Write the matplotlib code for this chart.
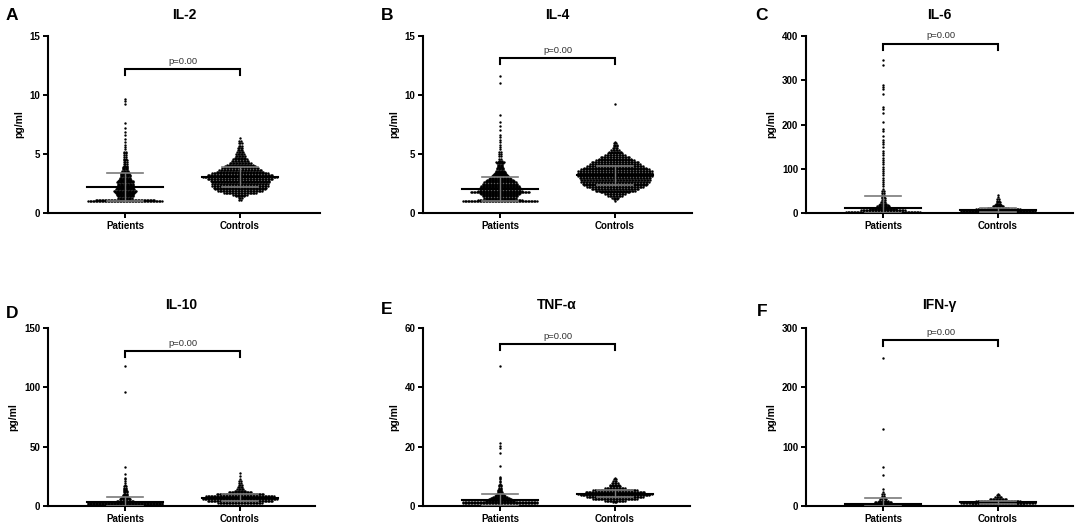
import numpy as np
import matplotlib.pyplot as plt

plt.rcParams['font.family'] = ['Liberation Sans', 'DejaVu Sans']

# panel labels, titles and axes
letters = ['A', 'B', 'C', 'D', 'E', 'F']
titles = ['IL-2', 'IL-4', 'IL-6', 'IL-10', 'TNF-α', 'IFN-γ']
groups = ['Patients', 'Controls']
y_max = [15, 15, 400, 150, 60, 300]
y_step = [5, 5, 100, 50, 20, 100]
p_text = ['p=0.00'] * 6
bracket_y = [12.2, 13.15, 383, 130.6, 54.5, 280]

# mean and SD (Patients, Controls)
means = [[2.2, 3.05], [2.06, 3.2], [10.6, 7.0], [3.6, 7.0], [2.0, 4.2], [4.0, 6.0]]
sds = [[1.2, 0.85], [1.02, 0.8], [28.4, 4.0], [4.2, 3.0], [1.9, 1.1], [10.0, 3.0]]

# dot rows: value level and number of dots drawn at that level
il2_pat_y = [1.0, 1.08, 1.2, 1.3, 1.4, 1.5, 1.6, 1.7, 1.8, 1.9, 2.0, 2.1, 2.2, 2.3, 2.4, 2.5,
             2.6, 2.7, 2.8, 2.9, 3.0, 3.1, 3.2, 3.3, 3.4, 3.5, 3.6, 3.7, 3.8, 3.9, 4.0, 4.15,
             4.3, 4.45, 4.6, 4.75, 4.9, 5.05, 5.2, 5.4, 5.6, 5.8, 6.0, 6.3, 6.6, 6.9, 7.2, 7.6,
             9.2, 9.5, 9.7]
il2_pat_n = [50, 40, 8, 10, 11, 12, 12, 13, 14, 16, 13, 12, 11, 11, 11, 11,
             12, 11, 9, 8, 8, 7, 7, 6, 6, 5, 5, 4, 4, 4, 3, 3,
             3, 3, 2, 2, 2, 2, 2, 1, 1, 1, 1, 1, 1, 1, 1, 1,
             1, 1, 1]
il2_con_y = [1.1, 1.25, 1.4, 1.55, 1.7, 1.85, 2.0, 2.15, 2.3, 2.45, 2.6, 2.75, 2.9, 3.05, 3.2,
             3.35, 3.5, 3.65, 3.8, 3.95, 4.1, 4.25, 4.4, 4.55, 4.7, 4.85, 5.0, 5.15, 5.3, 5.5,
             5.7, 5.9, 6.1, 6.35]
il2_con_n = [2, 3, 6, 10, 22, 30, 34, 36, 38, 38, 39, 40, 44, 50, 44,
             38, 32, 29, 25, 21, 18, 15, 12, 10, 8, 7, 6, 5, 4, 4,
             3, 3, 2, 1]

il4_pat_y = [1.0, 1.08, 1.2, 1.3, 1.4, 1.5, 1.6, 1.7, 1.8, 1.9, 2.0, 2.1, 2.2, 2.3, 2.4, 2.5,
             2.6, 2.7, 2.8, 2.9, 3.0, 3.1, 3.2, 3.3, 3.4, 3.5, 3.6, 3.7, 3.8, 3.9, 4.0, 4.1,
             4.2, 4.3, 4.4, 4.6, 4.8, 5.0, 5.2, 5.4, 5.6, 5.8, 6.0, 6.2, 6.4, 6.6, 7.0, 7.4,
             7.7, 8.3, 11.0, 11.6]
il4_pat_n = [50, 30, 20, 22, 24, 24, 26, 28, 40, 30, 28, 28, 26, 26, 24, 24,
             22, 20, 18, 16, 14, 12, 10, 9, 8, 7, 6, 5, 5, 4, 4, 4,
             5, 6, 3, 2, 2, 2, 2, 1, 1, 1, 1, 1, 1, 1, 1, 1,
             1, 1, 1, 1]
il4_con_y = [1.0, 1.15, 1.3, 1.45, 1.6, 1.75, 1.9, 2.05, 2.2, 2.35, 2.5, 2.65, 2.8, 2.95, 3.1,
             3.25, 3.4, 3.55, 3.7, 3.85, 4.0, 4.15, 4.3, 4.45, 4.6, 4.75, 4.9, 5.05, 5.2, 5.35,
             5.5, 5.65, 5.8, 5.95, 6.05, 9.2]
il4_con_n = [1, 3, 5, 10, 14, 20, 27, 32, 38, 42, 44, 46, 47, 48, 50,
             50, 50, 50, 46, 42, 38, 34, 32, 26, 22, 20, 14, 10, 9, 6,
             4, 3, 3, 2, 1, 1]

il6_pat_y = [3, 6, 9, 12, 15, 18, 21, 25, 29, 33, 37, 41, 45, 50, 55, 60, 65, 70, 75, 80, 85,
             90, 95, 100, 105, 110, 115, 120, 125, 130, 135, 140, 150, 155, 160, 165, 175, 185,
             190, 205, 225, 235, 240, 270, 280, 285, 290, 335, 345]
il6_pat_n = [50, 30, 18, 12, 9, 7, 5, 4, 3, 3, 2, 2, 2, 2, 1, 1, 1, 1, 1, 1, 1,
             1, 1, 1, 1, 1, 1, 1, 1, 1, 1, 1, 1, 1, 1, 1, 1, 1,
             1, 1, 1, 1, 1, 1, 1, 1, 1, 1, 1]
il6_con_y = [2, 4.5, 7, 9.5, 12, 15, 18, 21, 24, 28, 32, 36, 40]
il6_con_n = [30, 50, 40, 30, 14, 8, 5, 4, 3, 2, 2, 1, 1]

il10_pat_y = [1.5, 2.5, 3.5, 4.5, 5.5, 6.5, 7.5, 8.5, 9.5, 10.5, 11.5, 12.5, 13.5, 14.5, 15.5,
              16.5, 18, 19.5, 21, 22.5, 24, 27, 33, 96, 118]
il10_pat_n = [50, 50, 16, 12, 8, 6, 5, 4, 4, 3, 3, 3, 2, 2, 2,
              2, 1, 1, 1, 1, 1, 1, 1, 1, 1]
il10_con_y = [2.5, 4, 5.5, 7, 8.5, 10, 11.5, 13, 14.5, 16, 17.5, 19, 21, 23, 25, 27.5]
il10_con_n = [30, 44, 50, 50, 46, 32, 16, 8, 5, 4, 3, 2, 2, 1, 1, 1]

tnf_pat_y = [1.0, 1.4, 1.8, 2.2, 2.6, 3.0, 3.4, 3.8, 4.2, 4.6, 5.0, 5.4, 5.8, 6.2, 6.6, 7.0,
             7.5, 8.0, 8.5, 9.0, 9.5, 9.9, 13.5, 17.8, 19.4, 20.3, 21.1, 47.2]
tnf_pat_n = [50, 50, 20, 16, 13, 10, 8, 6, 5, 4, 3, 3, 2, 2, 2, 2,
             1, 1, 1, 1, 1, 1, 1, 1, 1, 1, 1, 1]
tnf_con_y = [1.2, 1.8, 2.4, 3.0, 3.6, 4.2, 4.8, 5.4, 6.0, 6.6, 7.2, 7.8, 8.4, 9.0, 9.6]
tnf_con_n = [3, 14, 30, 38, 46, 50, 40, 30, 14, 8, 7, 5, 3, 2, 1]

ifn_pat_y = [1.5, 4.0, 6.5, 9, 11.5, 14, 17, 20, 24, 28, 52, 66, 129, 249]
ifn_pat_n = [50, 40, 12, 7, 5, 3, 2, 2, 1, 1, 1, 1, 1, 1]
ifn_con_y = [2, 5.5, 9, 12, 15, 18, 20]
ifn_con_n = [36, 50, 30, 12, 5, 2, 1]

rows = [
    [(il2_pat_y, il2_pat_n), (il2_con_y, il2_con_n)],
    [(il4_pat_y, il4_pat_n), (il4_con_y, il4_con_n)],
    [(il6_pat_y, il6_pat_n), (il6_con_y, il6_con_n)],
    [(il10_pat_y, il10_pat_n), (il10_con_y, il10_con_n)],
    [(tnf_pat_y, tnf_pat_n), (tnf_con_y, tnf_con_n)],
    [(ifn_pat_y, ifn_pat_n), (ifn_con_y, ifn_con_n)],
]

W, H = 1084, 529
fig = plt.figure(figsize=(W / 100, H / 100), dpi=100)

# axes boxes in pixels: left, right, top, bottom
boxes = [(48, 320, 36, 213), (423, 692, 36, 213), (806, 1073, 36, 213),
         (48, 315, 328, 506), (423, 690, 328, 506), (806, 1073, 328, 506)]
letter_pos = [(12, 15), (387, 15), (762, 15), (12, 313), (387, 310), (762, 312)]

PX = 115.0          # pixels per category unit on x
dx = 1.5 / PX       # horizontal spacing between dots
mean_hw = 38 / PX
sd_hw = 18 / PX

for i in range(6):
    l, r, t, b = boxes[i]
    ax = fig.add_axes([l / W, 1 - b / H, (r - l) / W, (b - t) / H])
    ax.set_xlim(-77 / PX, (r - l - 77) / PX)
    ax.set_ylim(0, y_max[i])
    for j in range(2):
        ys, ns = rows[i][j]
        xs, yy = [], []
        for yv, n in zip(ys, ns):
            offs = (np.arange(n) - (n - 1) / 2) * dx
            xs.extend(j + offs)
            yy.extend([yv] * n)
        ax.scatter(xs, yy, s=3.0, c='black', linewidths=0, clip_on=False, zorder=2)
        m, s = means[i][j], sds[i][j]
        ax.plot([j - mean_hw, j + mean_hw], [m, m], color='black', lw=1.5, zorder=3)
        lo = max(m - s, 0)
        ax.plot([j, j], [lo, m + s], color='#7a7a7a', lw=1.0, zorder=3)
        for yc in (lo, m + s):
            ax.plot([j - sd_hw, j + sd_hw], [yc, yc], color='#7a7a7a', lw=1.2, zorder=3)

    # significance bracket
    by = bracket_y[i]
    drop = 6.0 / (b - t) * y_max[i]
    ax.plot([0, 0, 1, 1], [by - drop, by, by, by - drop], color='black', lw=1.5,
            solid_joinstyle='miter', zorder=4)
    ax.annotate(p_text[i], xy=(0.5, by), xytext=(0, 5.5), textcoords='offset points',
                ha='center', va='center', fontsize=6.8, color='#333333')

    ax.set_xticks([0, 1])
    ax.set_xticklabels(groups, fontsize=7, fontweight='bold')
    ax.set_yticks(np.arange(0, y_max[i] + 1, y_step[i]))
    ax.set_yticklabels([str(v) for v in np.arange(0, y_max[i] + 1, y_step[i])],
                       fontsize=7, fontweight='bold')
    ax.tick_params(length=3.5, width=1.4, pad=2)
    ax.set_ylabel('pg/ml', fontsize=7.5, fontweight='bold', labelpad=4)
    for sp in ['top', 'right']:
        ax.spines[sp].set_visible(False)
    for sp in ['left', 'bottom']:
        ax.spines[sp].set_linewidth(1.5)
    ax.text(0.5, 1 + (21 if i < 3 else 23) / (b - t), titles[i], transform=ax.transAxes,
            ha='center', va='center', fontsize=10, fontweight='bold')

    lx, ly = letter_pos[i]
    fig.text(lx / W, 1 - ly / H, letters[i], ha='center', va='center',
             fontsize=12.5, fontweight='bold')

fig.savefig('out.png', dpi=100)
